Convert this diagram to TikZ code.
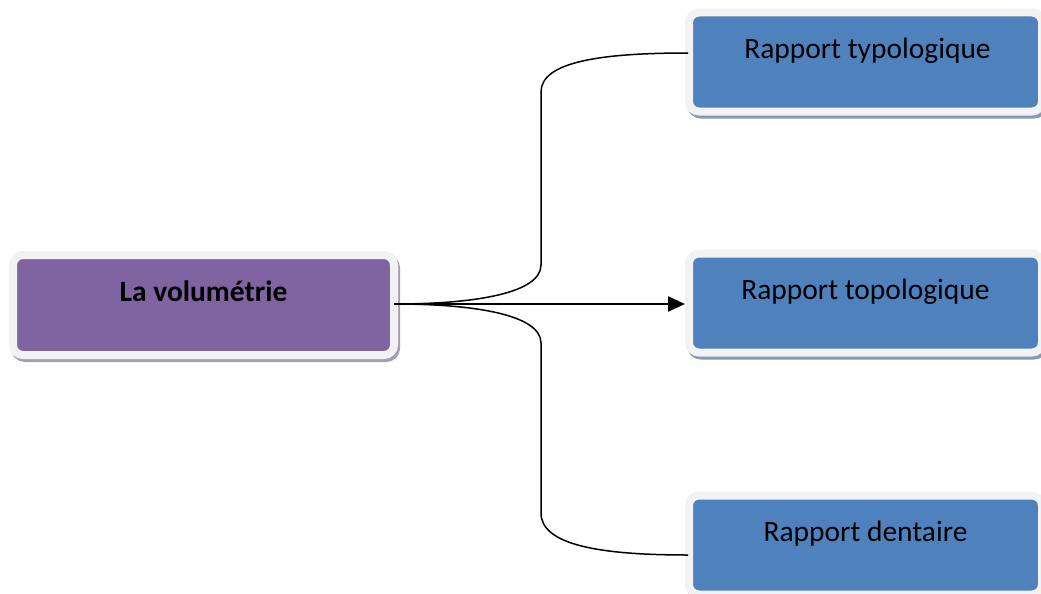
\documentclass[tikz,border=0pt]{standalone}
\usepackage{fontspec}
\setmainfont{Carlito}
\usetikzlibrary{arrows.meta}
\definecolor{purp}{HTML}{8064A2}
\definecolor{blu}{HTML}{4F81BD}
\definecolor{frame}{HTML}{F2F2F2}
\definecolor{shadp}{HTML}{A69EB5}
\definecolor{shadb}{HTML}{8799B4}
\tikzset{
  box/.style={rectangle, rounded corners=10pt, draw=frame, line width=8pt,
    inner sep=0pt, outer sep=4pt,
    preaction={draw=#1, fill=#1, line width=8pt, transform canvas={shift={(2,3)}}}},
  lbl/.style={anchor=base, inner sep=0pt, font=\fontsize{29.5}{34}\selectfont},
  conn/.style={line width=1.5pt},
}
\begin{document}
\begin{tikzpicture}[x=1pt,y=-1pt]
\useasboundingbox (0,0) rectangle (1041,594);
\node[box=shadp, fill=purp, minimum width=381pt, minimum height=100pt] (b0) at (203.5,305) {};
\node[box=shadb, fill=blu, minimum width=353pt, minimum height=99pt] (b1) at (865.5,62) {};
\node[box=shadb, fill=blu, minimum width=353pt, minimum height=99pt] (b2) at (865.5,303) {};
\node[box=shadb, fill=blu, minimum width=353pt, minimum height=99pt] (b3) at (865.5,545) {};
\node[lbl, font=\fontsize{29.5}{34}\selectfont\bfseries] (t0) at ([yshift=-50pt]b0.north) {La volumétrie};
\node[lbl] (t1) at ([xshift=2pt,yshift=-50pt]b1.north) {Rapport typologique};
\node[lbl] (t2) at ([yshift=-50pt]b2.north) {Rapport topologique};
\node[lbl] (t3) at ([yshift=-50pt]b3.north) {Rapport dentaire};
\coordinate (s) at ([xshift=-4pt,yshift=1pt]b0.east);
\draw[conn] (s) .. controls (480,304) and (541,292) .. (541,265) -- (541,92)
  .. controls (541,62) and (600,53) .. ([yshift=9pt,xshift=3pt]b1.west);
\draw[conn] (s) .. controls (480,304) and (541,316) .. (541,343) -- (541,513)
  .. controls (541,545) and (600,555) .. ([yshift=-10pt,xshift=3pt]b3.west);
\draw[line width=2.2pt, -{Triangle[length=17pt,width=15pt]}] (s) -- (s -| b2.west);
\end{tikzpicture}
\end{document}
